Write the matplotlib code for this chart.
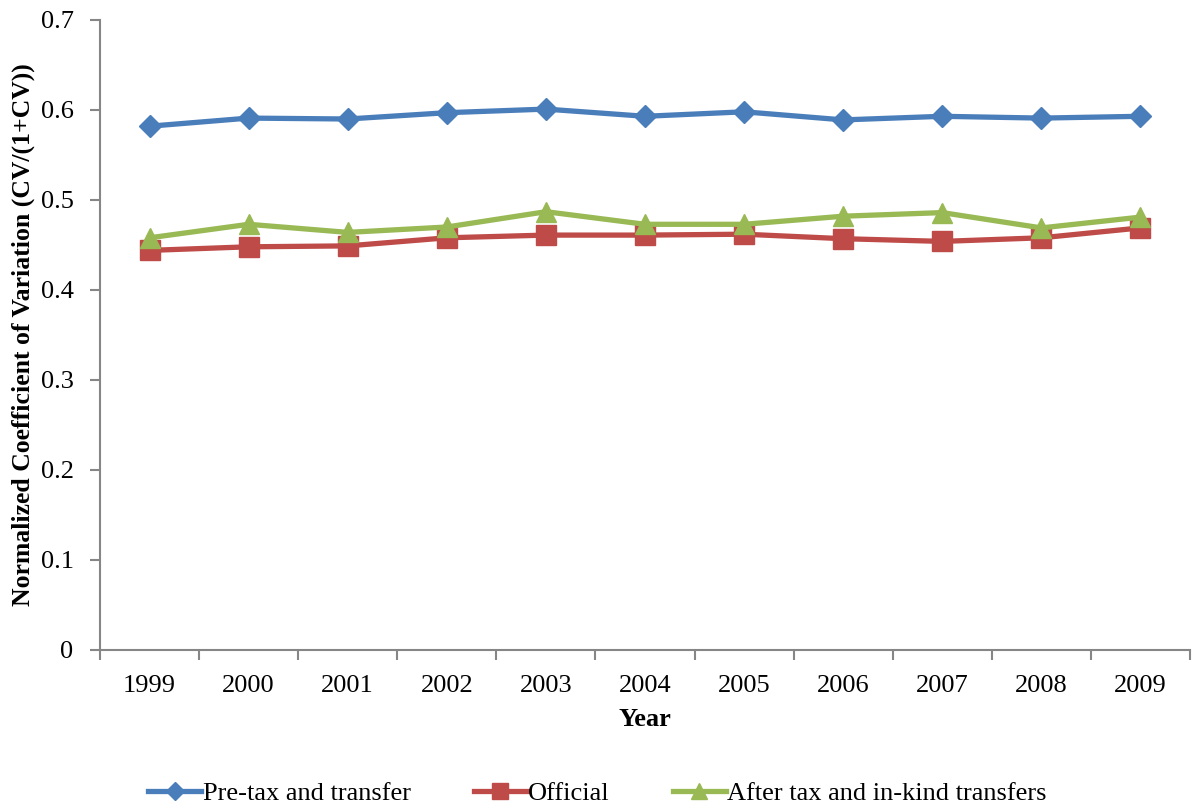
import numpy as np
import matplotlib.pyplot as plt

years = ["1999", "2000", "2001", "2002", "2003", "2004", "2005", "2006", "2007", "2008", "2009"]
pre_tax = [0.582, 0.591, 0.590, 0.597, 0.601, 0.593, 0.598, 0.589, 0.593, 0.591, 0.593]
official = [0.444, 0.448, 0.449, 0.458, 0.461, 0.461, 0.462, 0.457, 0.454, 0.458, 0.469]
after_tax = [0.458, 0.473, 0.464, 0.470, 0.487, 0.473, 0.473, 0.482, 0.486, 0.469, 0.481]

plt.rcParams['font.family'] = ['Liberation Serif', 'DejaVu Serif']

fig = plt.figure(figsize=(11.95, 8.1), dpi=100)
ax = fig.add_axes([100 / 1195, 160 / 810, 1090 / 1195, 630 / 810])

x = np.arange(len(years))
ax.plot(x, pre_tax, color='#4A7EBB', lw=3.8, marker='D', ms=11, label='Pre-tax and transfer')
ax.plot(x, official, color='#BE4B48', lw=3.8, marker='s', ms=14, label='Official')
ax.plot(x, after_tax, color='#98B954', lw=3.8, marker='^', ms=15, label='After tax and in-kind transfers')

ax.set_xlim(-0.5, len(years) - 0.5)
ax.set_ylim(0, 0.7)
ax.set_yticks(np.arange(0, 0.71, 0.1))
ax.set_yticklabels(['0', '0.1', '0.2', '0.3', '0.4', '0.5', '0.6', '0.7'])
ax.set_xticks(x)
ax.set_xticklabels(years)
ax.set_xticks(np.arange(-0.5, len(years), 1), minor=True)
ax.tick_params(axis='x', which='major', length=0, pad=18, labelsize=19)
ax.tick_params(axis='x', which='minor', length=7, width=1.5, color='#868686', direction='out')
ax.tick_params(axis='y', length=7, width=1.5, color='#868686', direction='out', pad=12, labelsize=19)

for s in ['top', 'right']:
    ax.spines[s].set_visible(False)
for s in ['left', 'bottom']:
    ax.spines[s].set_color('#868686')
    ax.spines[s].set_linewidth(1.5)

ax.set_xlabel('Year', fontsize=19, fontweight='bold', labelpad=8)
ax.set_ylabel('Normalized Coefficient of Variation (CV/(1+CV))', fontsize=18.5, fontweight='bold', labelpad=4)

fig.legend(loc='center', bbox_to_anchor=(0.5, 17 / 810), ncol=3, frameon=False, fontsize=19,
           handlelength=2.0, handletextpad=0.05, columnspacing=2.4, markerscale=0.8)

fig.savefig('out.png', dpi=100)
